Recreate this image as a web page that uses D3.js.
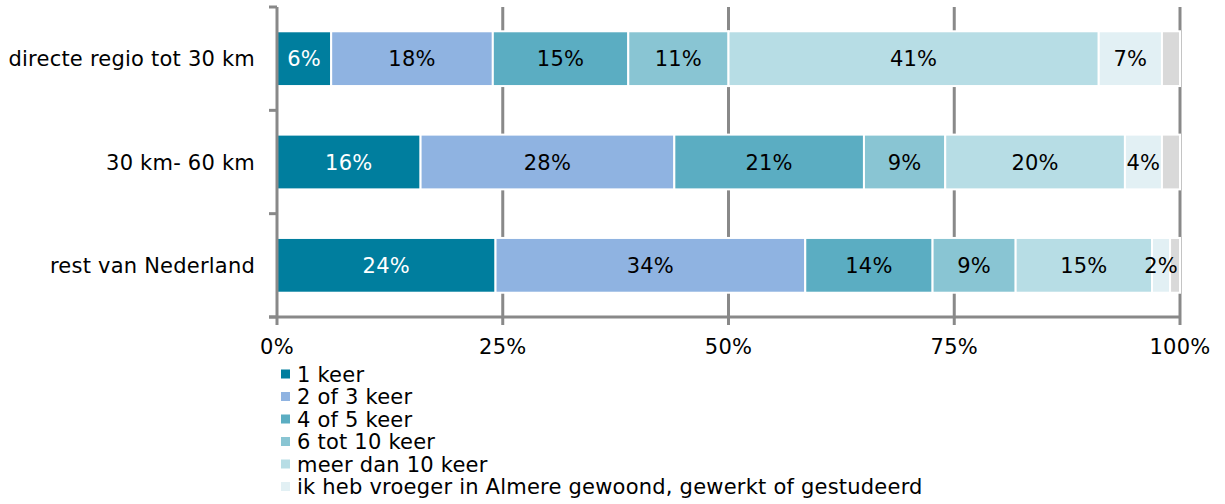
<!DOCTYPE html>
<html>
<head>
<meta charset="utf-8">
<script src="https://cdn.jsdelivr.net/npm/d3@7"></script>
<style>
  html, body { margin: 0; padding: 0; background: #fff; }
  svg { display: block; font-family: "DejaVu Sans", Verdana, sans-serif; letter-spacing: 0.22px; }
</style>
</head>
<body>
<svg id="chart" width="1225" height="504"></svg>
<script>
// Regions of residence (rows, top to bottom)
const categories = ["directe regio tot 30 km", "30 km- 60 km", "rest van Nederland"];

// Answer categories (stack order, left to right)
const seriesNames = [
  "1 keer",
  "2 of 3 keer",
  "4 of 5 keer",
  "6 tot 10 keer",
  "meer dan 10 keer",
  "ik heb vroeger in Almere gewoond, gewerkt of gestudeerd",
  "weet niet"
];

// Shares in percent per series, one value per region
const s1 = [6.0, 15.9, 24.2];
const s2 = [17.9, 28.1, 34.3];
const s3 = [15.0, 21.0, 14.1];
const s4 = [11.1, 9.0, 9.2];
const s5 = [41.0, 19.9, 15.1];
const s6 = [7.0, 4.1, 2.0];
const s7 = [2.0, 2.0, 1.1];

const xTicks = [0, 25, 50, 75, 100];
const xTickLabels = ["0%", "25%", "50%", "75%", "100%"];

const colors = ["#007e9e", "#8fb3e1", "#5badc2", "#89c5d3", "#b7dde5", "#e2f0f4", "#d9d9d9"];
const labelColors = ["#ffffff", "#000000", "#000000", "#000000", "#000000", "#000000", null];

const seriesValues = [s1, s2, s3, s4, s5, s6, s7];
const rows = categories.map((c, i) => {
  const r = { cat: c };
  seriesNames.forEach((n, j) => { r[n] = seriesValues[j][i]; });
  return r;
});

const svg = d3.select("#chart");
const plotLeft = 277, plotRight = 1180, plotTop = 7, plotBottom = 317;
const fontSize = 21;

const x = d3.scaleLinear().domain([0, 100]).range([plotLeft, plotRight]);
const y = d3.scaleBand().domain(categories).range([plotTop, plotBottom])
  .paddingInner(0.47).paddingOuter(0.235);
const yOuter = d3.scaleBand().domain(categories).range([plotTop, plotBottom]);

const gridColor = "#898989";

// vertical gridlines (behind the bars)
svg.append("g").selectAll("line").data(xTicks.slice(1)).join("line")
  .attr("x1", d => x(d)).attr("x2", d => x(d))
  .attr("y1", plotTop).attr("y2", plotBottom)
  .attr("stroke", gridColor).attr("stroke-width", 3);

// stacked bars
const stack = d3.stack().keys(seriesNames);
const stacked = stack(rows);

const layers = svg.append("g").selectAll("g").data(stacked).join("g")
  .attr("fill", (d, i) => colors[i]);

layers.selectAll("rect").data(d => d).join("rect")
  .attr("x", d => x(d[0]))
  .attr("width", d => x(d[1]) - x(d[0]))
  .attr("y", d => y(d.data.cat))
  .attr("height", y.bandwidth())
  .attr("stroke", "#ffffff")
  .attr("stroke-width", 2);

// value labels
const fmt = v => d3.format(".0f")(v) + "%";
stacked.forEach((layer, i) => {
  if (!labelColors[i]) return;
  svg.append("g").selectAll("text").data(layer).join("text")
    .attr("x", d => (x(d[0]) + x(d[1])) / 2)
    .attr("y", d => y(d.data.cat) + y.bandwidth() / 2)
    .attr("dy", "0.36em")
    .attr("text-anchor", "middle")
    .attr("font-size", fontSize)
    .attr("fill", labelColors[i])
    .text(d => fmt(d[1] - d[0]));
});

// y axis line with ticks at band boundaries
const yAxis = svg.append("g");
yAxis.append("line")
  .attr("x1", plotLeft).attr("x2", plotLeft).attr("y1", plotTop).attr("y2", plotBottom)
  .attr("stroke", gridColor).attr("stroke-width", 3);
const bounds = categories.map(c => yOuter(c)).concat([plotBottom]);
yAxis.selectAll("line.tick").data(bounds).join("line")
  .attr("class", "tick")
  .attr("x1", plotLeft - 8).attr("x2", plotLeft)
  .attr("y1", d => d).attr("y2", d => d)
  .attr("stroke", gridColor).attr("stroke-width", 3);
yAxis.selectAll("text").data(categories).join("text")
  .attr("x", plotLeft - 22)
  .attr("y", d => y(d) + y.bandwidth() / 2)
  .attr("dy", "0.36em")
  .attr("text-anchor", "end")
  .attr("font-size", fontSize)
  .attr("fill", "#000")
  .text(d => d);

// x axis
const xAxis = svg.append("g");
xAxis.append("line")
  .attr("x1", plotLeft - 8).attr("x2", plotRight).attr("y1", plotBottom).attr("y2", plotBottom)
  .attr("stroke", gridColor).attr("stroke-width", 3);
xAxis.selectAll("line.tick").data(xTicks).join("line")
  .attr("class", "tick")
  .attr("x1", d => x(d)).attr("x2", d => x(d))
  .attr("y1", plotBottom).attr("y2", plotBottom + 8)
  .attr("stroke", gridColor).attr("stroke-width", 3);
xAxis.selectAll("text").data(xTicks).join("text")
  .attr("x", d => x(d))
  .attr("y", 346)
  .attr("dy", "0.36em")
  .attr("text-anchor", "middle")
  .attr("font-size", fontSize)
  .attr("fill", "#000")
  .text((d, i) => xTickLabels[i]);

// legend (first six answer categories)
const legend = svg.append("g");
const legendItems = seriesNames.slice(0, 6);
const lg = legend.selectAll("g").data(legendItems).join("g")
  .attr("transform", (d, i) => `translate(281, ${374 + i * 22.5})`);
lg.append("rect")
  .attr("x", 0).attr("y", -4.5).attr("width", 9).attr("height", 9)
  .attr("fill", (d, i) => colors[i]);
lg.append("text")
  .attr("x", 16).attr("y", 0).attr("dy", "0.36em")
  .attr("font-size", fontSize)
  .attr("fill", "#000")
  .text(d => d);
</script>
</body>
</html>
